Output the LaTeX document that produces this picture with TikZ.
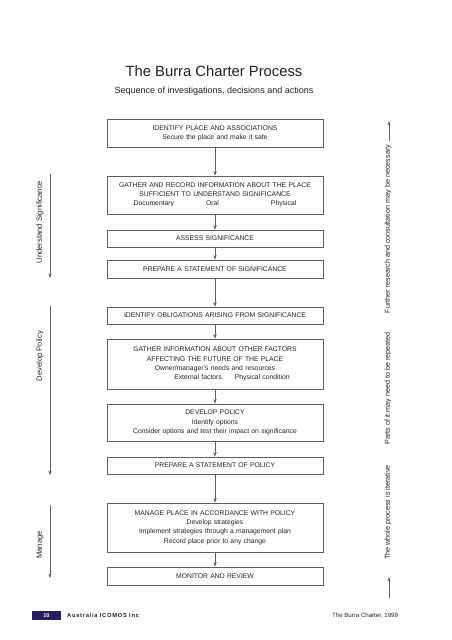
\documentclass[tikz,border=0pt]{standalone}
\usepackage{fontspec}
\setmainfont{Liberation Sans}
\usetikzlibrary{arrows.meta}
\definecolor{navy}{RGB}{38,30,98}
\definecolor{ink}{RGB}{35,35,35}
\definecolor{frame}{RGB}{95,95,95}
\begin{document}
\begin{tikzpicture}[x=1pt,y=-1pt,
  box/.style={draw=frame, line width=0.8pt, minimum width=216pt, text width=212pt,
    align=center, font=\fontsize{6.8}{9.3}\selectfont, text=ink, inner sep=0pt},
  flow/.style={draw=frame, line width=0.8pt, -{Stealth[length=4.5pt,width=3.4pt]}},
  sidearrow/.style={draw=frame, line width=0.7pt, -{Stealth[length=4.5pt,width=3.4pt]}},
  sidelabel/.style={rotate=90, font=\fontsize{7.6}{9}\selectfont, text=ink, inner sep=0pt},
  iterlabel/.style={rotate=90, font=\fontsize{7.2}{9}\selectfont, text=ink, inner sep=0pt}]
\fill[white] (0,0) rectangle (452,640);
\useasboundingbox (0,0) rectangle (452,640);

% titles
\node[anchor=base, font=\fontsize{14.8}{17}\selectfont, text=ink] (title) at (214,76) {The Burra Charter Process};
\node[anchor=base, font=\fontsize{9}{11}\selectfont, text=ink] (subtitle) at (214,93) {Sequence of investigations, decisions and actions};

% boxes
\node[box, minimum height=28pt] (b1) at (215,133) {IDENTIFY PLACE AND ASSOCIATIONS\\Secure the place and make it safe};
\node[box, minimum height=38pt] (b2) at (215,195) {GATHER AND RECORD INFORMATION ABOUT THE PLACE\\SUFFICIENT TO UNDERSTAND SIGNIFICANCE\\Documentary\hspace{32pt}Oral\hspace{52pt}Physical};
\node[box, minimum height=17pt] (b3) at (215,238.5) {ASSESS SIGNIFICANCE};
\node[box, minimum height=18pt] (b4) at (215,269) {PREPARE A STATEMENT OF SIGNIFICANCE};
\node[box, minimum height=17pt] (b5) at (215,315.5) {IDENTIFY OBLIGATIONS ARISING FROM SIGNIFICANCE};
\node[box, minimum height=50pt] (b6) at (215,364) {GATHER INFORMATION ABOUT OTHER FACTORS\\AFFECTING THE FUTURE OF THE PLACE\\Owner/manager's needs and resources\\\hspace*{34pt}External factors\hspace{13pt}Physical condition};
\node[box, minimum height=37pt] (b7) at (215,422.5) {DEVELOP POLICY\\Identify options\\Consider options and test their impact on significance};
\node[box, minimum height=17pt] (b8) at (215,465.5) {PREPARE A STATEMENT OF POLICY};
\node[box, minimum height=49pt] (b9) at (215,527.5) {MANAGE PLACE IN ACCORDANCE WITH POLICY\\Develop strategies\\Implement strategies through a management plan\\Record place prior to any change};
\node[box, minimum height=18pt] (b10) at (215,576) {MONITOR AND REVIEW};

\foreach \a/\b in {b1/b2,b2/b3,b3/b4,b4/b5,b5/b6,b6/b7,b7/b8,b8/b9,b9/b10}
  \draw[flow] (\a.south) -- (\b.north);

% left phase arrows
\coordinate (u1) at (50,174); \coordinate (u2) at (50,278);
\coordinate (d1) at (50,306); \coordinate (d2) at (50,475);
\coordinate (m1) at (50,505); \coordinate (m2) at (50,578);
\draw[sidearrow] (u1) -- (u2);
\draw[sidearrow] (d1) -- (d2);
\draw[sidearrow] (m1) -- (m2);
\node[sidelabel] (lu) at (40,222) {Understand Significance};
\node[sidelabel] (ld) at (40,356) {Develop Policy};
\node[sidelabel] (lm) at (40,545) {Manage};

% right iterative note
\coordinate (r1) at (389,141); \coordinate (r2) at (389,121);
\coordinate (r3) at (389,598); \coordinate (r4) at (389,577);
\draw[sidearrow] (r1) -- (r2);
\draw[sidearrow] (r3) -- (r4);
\node[iterlabel] (rt1) at (388,229) {Further research and consultation may be necessary};
\node[iterlabel] (rt2) at (388,388.5) {Parts of it may need to be repeated};
\node[iterlabel] (rt3) at (388,512.5) {The whole process is iterative};

% footer
\node[fill=navy, minimum width=29pt, minimum height=9pt, inner sep=0pt, text=white,
  font=\fontsize{5.5}{6}\selectfont\bfseries] (page) at (46.5,615.5) {10};
\node[anchor=west, inner sep=0pt, text=ink,
  font=\fontsize{5.8}{7}\selectfont\bfseries\addfontfeatures{LetterSpace=12}] (org) at (67,615.5) {Australia ICOMOS Inc};
\node[anchor=base west, inner sep=0pt, text=ink, font=\fontsize{6.1}{7}\selectfont] (doc) at (332,617.5) {The Burra Charter, 1999};
\end{tikzpicture}
\end{document}
